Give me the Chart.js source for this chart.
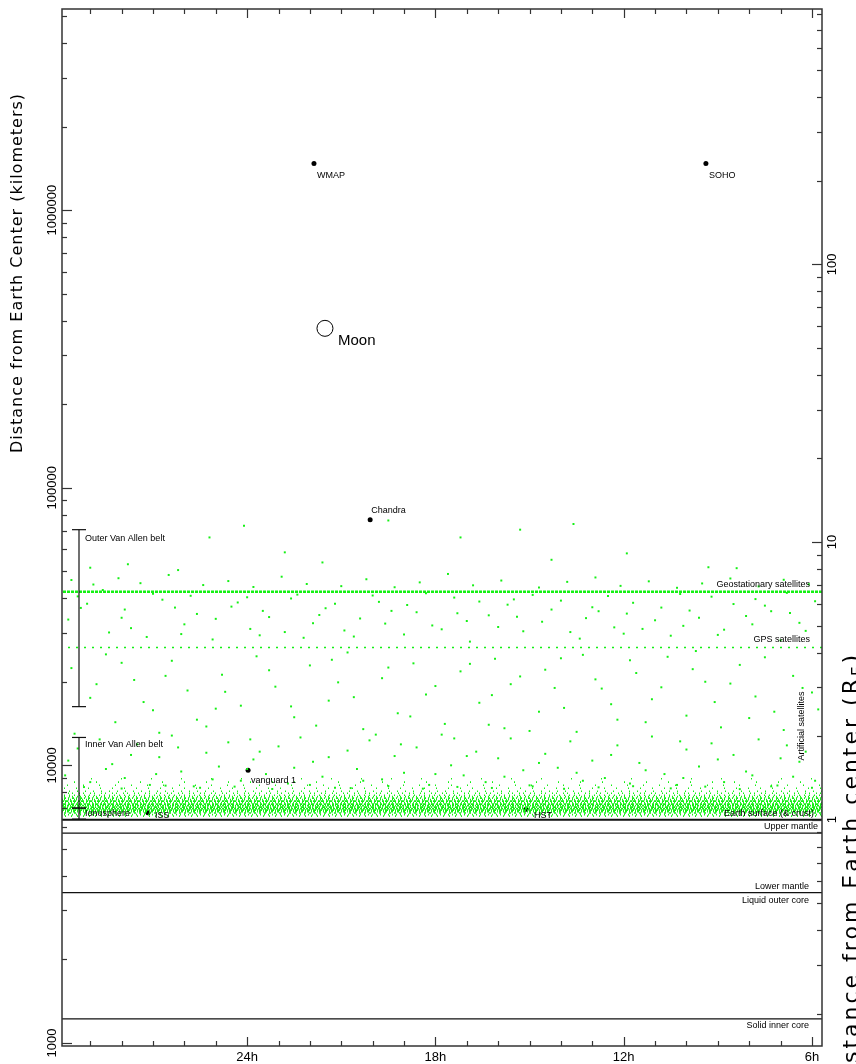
<!DOCTYPE html>
<html>
<head>
<meta charset="utf-8">
<script src="https://cdn.jsdelivr.net/npm/chart.js@4.4.1/dist/chart.umd.min.js"></script>
<style>
 html,body{margin:0;padding:0;background:#fff}
 #wrap{width:856px;height:1064px}
</style>
</head>
<body>
<div id="wrap"><canvas id="c" width="856" height="1064"></canvas></div>
<script>
/* ---------------- axis ranges ---------------- */
const X_MIN=5.68, X_MAX=29.9;          // right ascension, hours (axis runs right->left)
const Y_MIN=975, Y_MAX=5.3e6;          // km from Earth centre
const EARTH_R=6371;

/* ---------------- tick labels ---------------- */
const hourLabels=[24,18,12,6];
const kmLabels=[1000,10000,100000,1000000];
const reLabels=[1,10,100];

/* ---------------- Earth interior boundaries (km) ---------------- */
const layerKm=[6371,5701,3480,1220];
const layerTexts=["Earth surface (& crust)","Upper mantle","Lower mantle","Liquid outer core","Solid inner core"];
const layerTextKm=[6371,6371,3480,3480,1220];

/* ---------------- radiation belts (km) ---------------- */
const beltNames=["Outer Van Allen belt","Inner Van Allen belt","Ionosphere"];
const beltLowKm=[16270,7015,6400];
const beltHighKm=[70600,12600,7015];

/* ---------------- named spacecraft ---------------- */
const objNames=["WMAP","SOHO","Chandra","vanguard 1","ISS","HST"];
const objHour=[21.87,9.38,20.08,23.97,27.16,15.11];
const objKm=[1470000,1470000,76700,9600,6745,6950];
const moonHour=21.52, moonKm=375000;

/* ---------------- satellite shells (km) ---------------- */
const geoKm=42164, gpsKm=26560;
const leoShellKm=[6563,6645,6730,6813,6899,6985,7072,7159,7249,7339,7430,7521,7616,7711,7806,7935,8068,8270,8479,8700,8950];

/* ---------------- scattered satellites [hour, km] ---------------- */
const satAboveGeo=[[29.6,46500],[28.9,44800],[28.1,47200],[27.4,45300],[26.5,48500],[25.4,44600],[24.6,46100],[23.8,43900],[22.9,47800],[22.1,45000],[21.0,44200],[20.2,46800],[19.3,43800],[18.5,45600],[17.6,48900],[16.8,44500],[15.9,46300],[14.7,43700],[13.8,45800],[12.9,47500],[12.1,44300],[11.2,46000],[10.3,43600],[9.5,45200],[8.6,47100],[7.7,44100],[6.9,46600],[6.1,44900],
 [25.2,66200],[24.1,73000],[15.3,70600],[13.6,74000],[17.2,66200],[21.6,53800],[14.3,55000],[9.3,51700],[8.4,51300],[19.5,76200],[27.8,53000],[29.0,51500],[11.9,58000],[22.8,58500],[26.2,50500]];
const satGeoToGps=[[29.7,33500],[29.1,38200],[28.4,30100],[27.9,36400],[27.2,29000],[26.7,39500],[26.0,32200],[25.6,35100],[25.1,28400],[24.5,37300],[23.9,31000],[23.3,34200],[22.6,39900],[22.2,28800],[21.5,36800],[20.9,30600],[20.4,33800],[19.8,38800],[19.0,29600],[18.6,35600],[18.1,31900],[17.4,40200],[16.9,27900],[16.3,34700],[15.7,37900],[15.2,30400],[14.6,32900],[14.0,39200],[13.4,28600],[12.8,35900],[12.3,31400],[11.7,38500],[11.0,33300],[10.5,29300],[9.9,36100],[9.2,40500],[8.8,30800],[8.1,34500],[7.5,37600],[7.0,28200],[6.4,32600],[5.9,39000],
 [29.4,40600],[28.0,34000],[26.3,37000],[24.0,40300],[21.9,32500],[19.4,36000],[17.0,33100],[13.0,37100],[10.1,31800],[7.8,39700],[6.7,35400],[15.5,39600],[12.0,29800],[23.6,29400],
 [29.3,36900],[28.6,42800],[27.7,31200],[27.0,41500],[26.1,29700],[25.8,40800],[25.0,33700],[24.3,38600],[23.5,36000],[22.8,30200],[22.4,41200],[21.7,34800],[21.2,38200],[20.6,29100],[20.0,40900],[19.6,32400],[18.9,37800],[18.3,41700],[17.8,30900],[17.3,35300],[16.6,38900],[16.0,31500],[15.4,34300],[14.9,41100],[14.3,36400],[13.7,30200],[13.2,33900],[12.5,40700],[11.9,35200],[11.4,31000],[10.8,37000],[10.2,41400],[9.6,34000],[9.0,29500],[8.5,38100],[7.9,32200],[7.3,35900],[6.8,41800],[6.2,30500]];
const satMid=[[29.6,22400],[29.0,17500],[28.5,25100],[28.2,14300],[27.6,20300],[27.0,15800],[26.4,23800],[25.9,18600],[25.3,13800],[24.8,21200],[24.2,16400],[23.7,24700],[23.1,19200],[22.5,14900],[22.0,22900],[21.4,17100],[20.8,25500],[20.3,13500],[19.7,20600],[19.2,15400],[18.7,23300],[18.3,18000],[17.7,14100],[17.2,21800],[16.6,16800],[16.1,24200],[15.6,19600],[15.0,13300],[14.5,22100],[13.9,16100],[13.3,25000],[12.7,18900],[12.2,14600],[11.6,21500],[11.1,17300],[10.6,24600],[10.0,15100],[9.4,20000],[8.9,13700],[8.3,23000],[7.8,17700],[7.2,15600],[6.6,21000],[6.0,18300],
 [26.8,13100],[21.1,19900],[16.3,14000],[9.7,25800],[14.2,19000],[25.0,16000],
 [29.5,13000],[28.8,19600],[28.0,23400],[27.3,16900],[26.6,21000],[25.6,14600],[24.7,18400],[23.9,12400],[23.3,22000],[22.6,16300],[21.8,13900],[21.3,24000],[20.6,17600],[19.9,12900],[19.5,22500],[18.8,15000],[18.0,19300],[17.4,12500],[16.9,23200],[16.2,17900],[15.8,13600],[15.3,20900],[14.7,15600],[14.0,24300],[13.5,13200],[12.9,20400],[12.4,16600],[11.8,23900],[11.3,14300],[10.8,19100],[10.2,12200],[9.8,22200],[9.1,16900],[8.6,19700],[8.0,14800],[7.5,24500],[6.9,13400],[6.3,19000],[5.8,15900]];
const satLow=[[29.8,9200],[29.4,11500],[29.0,8700],[28.7,12400],[28.3,10100],[27.9,9000],[27.5,11900],[27.1,8500],[26.8,10700],[26.4,12800],[26.1,9500],[25.7,8400],[25.3,11100],[24.9,9900],[24.6,12100],[24.2,8800],[23.8,10500],[23.4,9300],[23.0,11700],[22.7,8600],[22.3,12600],[21.9,10300],[21.6,9100],[21.2,8300],[20.8,11300],[20.5,9700],[20.1,12300],[19.7,8900],[19.3,10800],[19.0,9400],[18.6,11600],[18.2,8500],[17.8,12900],[17.5,10000],[17.1,9200],[16.7,11200],[16.4,8700],[16.0,10600],[15.6,12500],[15.2,9600],[14.9,8400],[14.5,11000],[14.1,9800],[13.7,12200],[13.3,8800],[13.0,10400],[12.6,9000],[12.2,11800],[11.8,8600],[11.5,10200],[11.1,12700],[10.7,9300],[10.3,8500],[10.0,11400],[9.6,9900],[9.2,12000],[8.8,8700],[8.5,10900],[8.1,9500],[7.7,12400],[7.3,8400],[7.0,10600],[6.6,9100],[6.2,11200],[5.9,8800],
 [29.2,8350],[28.0,8250],[26.6,8450],[25.5,8300],[24.4,8380],[23.2,8220],[22.0,8500],[20.7,8280],[19.5,8420],[18.4,8240],[17.3,8360],[16.2,8290],[15.0,8470],[13.9,8230],[12.8,8330],[11.7,8410],[10.5,8260],[9.4,8380],[8.3,8210],[7.1,8460],[6.0,8300],
 [29.7,10400],[28.5,9700],[27.7,10900],[26.9,9300],[26.2,11600],[25.1,8900],[24.0,9700],[23.6,11200],[22.5,9800],[21.4,10700],[20.3,8800],[19.1,11900],[18.0,9300],[17.0,10800],[15.8,9100],[14.7,10200],[13.5,9400],[12.4,10900],[11.3,9600],[10.1,9000],[9.0,10500],[7.9,9200],[6.8,11800],[6.4,10300]];

/* ---------------- styles ---------------- */
const GREEN="#14f014";
const leoDash=[[1,5],[1,3],[2,3],[2,1,1,2],[3,1,1,1],[2,1],[3,2,1,1],[1,1,2,1],[2,2,3,1],[1,2],[3,1,2,2],[1,1,1,3],[2,3,1,2],[1,2,1,4],[1,4],[1,6,1,3],[1,7],[1,11],[1,15],[1,21],[1,29]];
const SMALL='9px "Liberation Sans"';

const span=km=>[{x:X_MIN,y:km},{x:X_MAX,y:km}];
const pts=arr=>arr.map(p=>({x:p[0],y:p[1]}));

const datasets=[];
leoShellKm.forEach((km,i)=>datasets.push({data:span(km),showLine:true,borderColor:GREEN,borderWidth:1.6,
  borderDash:leoDash[i],borderDashOffset:i*7,pointRadius:0}));
datasets.push({data:span(geoKm),showLine:true,borderColor:GREEN,borderWidth:2.5,borderDash:[3,1],pointRadius:0});
datasets.push({data:span(gpsKm),showLine:true,borderColor:GREEN,borderWidth:1.5,borderDash:[2,6],pointRadius:0});
datasets.push({data:pts([].concat(satAboveGeo,satGeoToGps,satMid,satLow)),pointStyle:"rect",pointRadius:1.4,
  backgroundColor:GREEN,borderWidth:0});
layerKm.forEach((km,i)=>datasets.push({data:span(km),showLine:true,borderColor:"#111",borderWidth:i===0?2:1.2,pointRadius:0}));
datasets.push({data:objHour.map((h,i)=>({x:h,y:objKm[i]})),pointRadius:2.5,backgroundColor:"#000",borderWidth:0});
datasets.push({data:[{x:moonHour,y:moonKm}],pointRadius:8,backgroundColor:"rgba(0,0,0,0)",borderColor:"#000",borderWidth:1});

/* ---------------- overlay: frame, ticks, labels ---------------- */
function vtext(ctx,s,x,y,font,align,spacing){
 ctx.save();ctx.translate(x,y);ctx.rotate(-Math.PI/2);ctx.font=font;
 if(spacing)ctx.letterSpacing=spacing;
 ctx.textAlign=align||"center";ctx.textBaseline="middle";ctx.fillText(s,0,0);ctx.restore();
}
function seg(ctx,x1,y1,x2,y2){ctx.beginPath();ctx.moveTo(x1,y1);ctx.lineTo(x2,y2);ctx.stroke();}
function logTicks(ctx,sc,lo,hi,majors,x0,dir){
 for(let e=Math.floor(Math.log10(lo));e<=Math.ceil(Math.log10(hi));e++){
  for(let m=1;m<=9;m++){
   const v=m*Math.pow(10,e); if(v<lo||v>hi)continue;
   const py=Math.round(sc.getPixelForValue(v))+.5;
   const maj=majors.some(t=>Math.abs(t-v)/t<1e-6);
   seg(ctx,x0,py,x0+dir*(maj?10:5),py);
  }
 }
}
const overlay={id:"overlay",afterDatasetsDraw(chart){
 const {ctx,chartArea:a,scales}=chart; const sx=scales.x, sy=scales.y, sr=scales.yr;
 ctx.save(); ctx.fillStyle="#000"; ctx.strokeStyle="#111"; ctx.lineWidth=1.2;

 // belt brackets
 const bx=a.left+17;
 beltNames.forEach((n,i)=>{
  const t=sy.getPixelForValue(beltHighKm[i]), b=sy.getPixelForValue(beltLowKm[i]);
  seg(ctx,bx,t,bx,b); seg(ctx,bx-7,t,bx+7,t); seg(ctx,bx-7,b,bx+7,b);
  ctx.font=SMALL; ctx.textAlign="left"; ctx.textBaseline="middle";
  ctx.fillText(n,a.left+23,t+[9,7,5][i]);
 });

 // layer labels
 const ldx=[8,4,13,13,13], ldy=[-6,7,-6,8,7];
 ctx.font=SMALL; ctx.textAlign="right"; ctx.textBaseline="middle";
 layerTexts.forEach((s,i)=>ctx.fillText(s,a.right-ldx[i],sy.getPixelForValue(layerTextKm[i])+ldy[i]));
 ctx.fillText("Geostationary satellites",a.right-12,sy.getPixelForValue(geoKm)-7);
 ctx.fillText("GPS satellites",a.right-12,sy.getPixelForValue(gpsKm)-8);
 vtext(ctx,"Artificial satellites",a.right-20,726,SMALL);

 // object labels
 const odx=[3,3,1,3,7,8], ody=[12,12,-9,10,3,6];
 ctx.textAlign="left";
 objNames.forEach((n,i)=>ctx.fillText(n,sx.getPixelForValue(objHour[i])+odx[i],sy.getPixelForValue(objKm[i])+ody[i]));
 ctx.font='15px "Liberation Sans"';
 ctx.fillText("Moon",sx.getPixelForValue(moonHour)+13,sy.getPixelForValue(moonKm)+13);

 // frame
 ctx.strokeStyle="#333"; ctx.lineWidth=1.5;
 ctx.strokeRect(a.left,a.top,a.right-a.left,a.bottom-a.top);

 // ticks
 ctx.lineWidth=1.2;
 for(let h=Math.ceil(X_MIN);h<=Math.floor(X_MAX);h++){
  const px=Math.round(sx.getPixelForValue(h))+.5, len=hourLabels.includes(h)?9:5;
  seg(ctx,px,a.top,px,a.top+len); seg(ctx,px,a.bottom,px,a.bottom-len);
 }
 logTicks(ctx,sy,Y_MIN,Y_MAX,kmLabels,a.left,1);
 logTicks(ctx,sr,Y_MIN/EARTH_R,Y_MAX/EARTH_R,reLabels,a.right,-1);

 // tick labels
 ctx.font='13px "Liberation Sans"'; ctx.textAlign="center"; ctx.textBaseline="middle";
 hourLabels.forEach(h=>ctx.fillText(h+"h",sx.getPixelForValue(h),a.bottom+11));
 kmLabels.forEach(v=>vtext(ctx,String(v),a.left-10,sy.getPixelForValue(v),'13px "Liberation Sans"'));
 reLabels.forEach(v=>vtext(ctx,String(v),a.right+10,sr.getPixelForValue(v),'13px "Liberation Sans"'));

 // axis titles
 vtext(ctx,"Distance from Earth Center (kilometers)",18,273,'16px "DejaVu Sans"',"center","1px");
 ctx.save(); ctx.letterSpacing="3px"; ctx.font='22px "DejaVu Sans"';
 const main="Distance from Earth center (R", w1=ctx.measureText(main).width;
 ctx.font='15px "DejaVu Sans"'; const w2=ctx.measureText("E").width;
 ctx.font='22px "DejaVu Sans"'; const w3=ctx.measureText(")").width;
 const start=652+w1+w2+w3;
 ctx.translate(858,start); ctx.rotate(-Math.PI/2); ctx.textAlign="left"; ctx.textBaseline="alphabetic";
 ctx.fillText(main,0,0);
 ctx.font='15px "DejaVu Sans"'; ctx.fillText("E",w1,5);
 ctx.font='22px "DejaVu Sans"'; ctx.fillText(")",w1+w2,0);
 ctx.restore();
 ctx.restore();
}};

const hidden={display:false};
new Chart(document.getElementById("c"),{
 type:"scatter",
 data:{datasets},
 options:{
  responsive:false, devicePixelRatio:1, animation:false,
  layout:{padding:{left:62,right:34,top:6,bottom:18}},
  plugins:{legend:{display:false},tooltip:{enabled:false}},
  scales:{
   x:Object.assign({type:"linear",reverse:true,min:X_MIN,max:X_MAX},hidden),
   y:Object.assign({type:"logarithmic",min:Y_MIN,max:Y_MAX,position:"left"},hidden),
   yr:Object.assign({type:"logarithmic",min:Y_MIN/EARTH_R,max:Y_MAX/EARTH_R,position:"right"},hidden)
  }
 },
 plugins:[overlay]
});
</script>
</body>
</html>
